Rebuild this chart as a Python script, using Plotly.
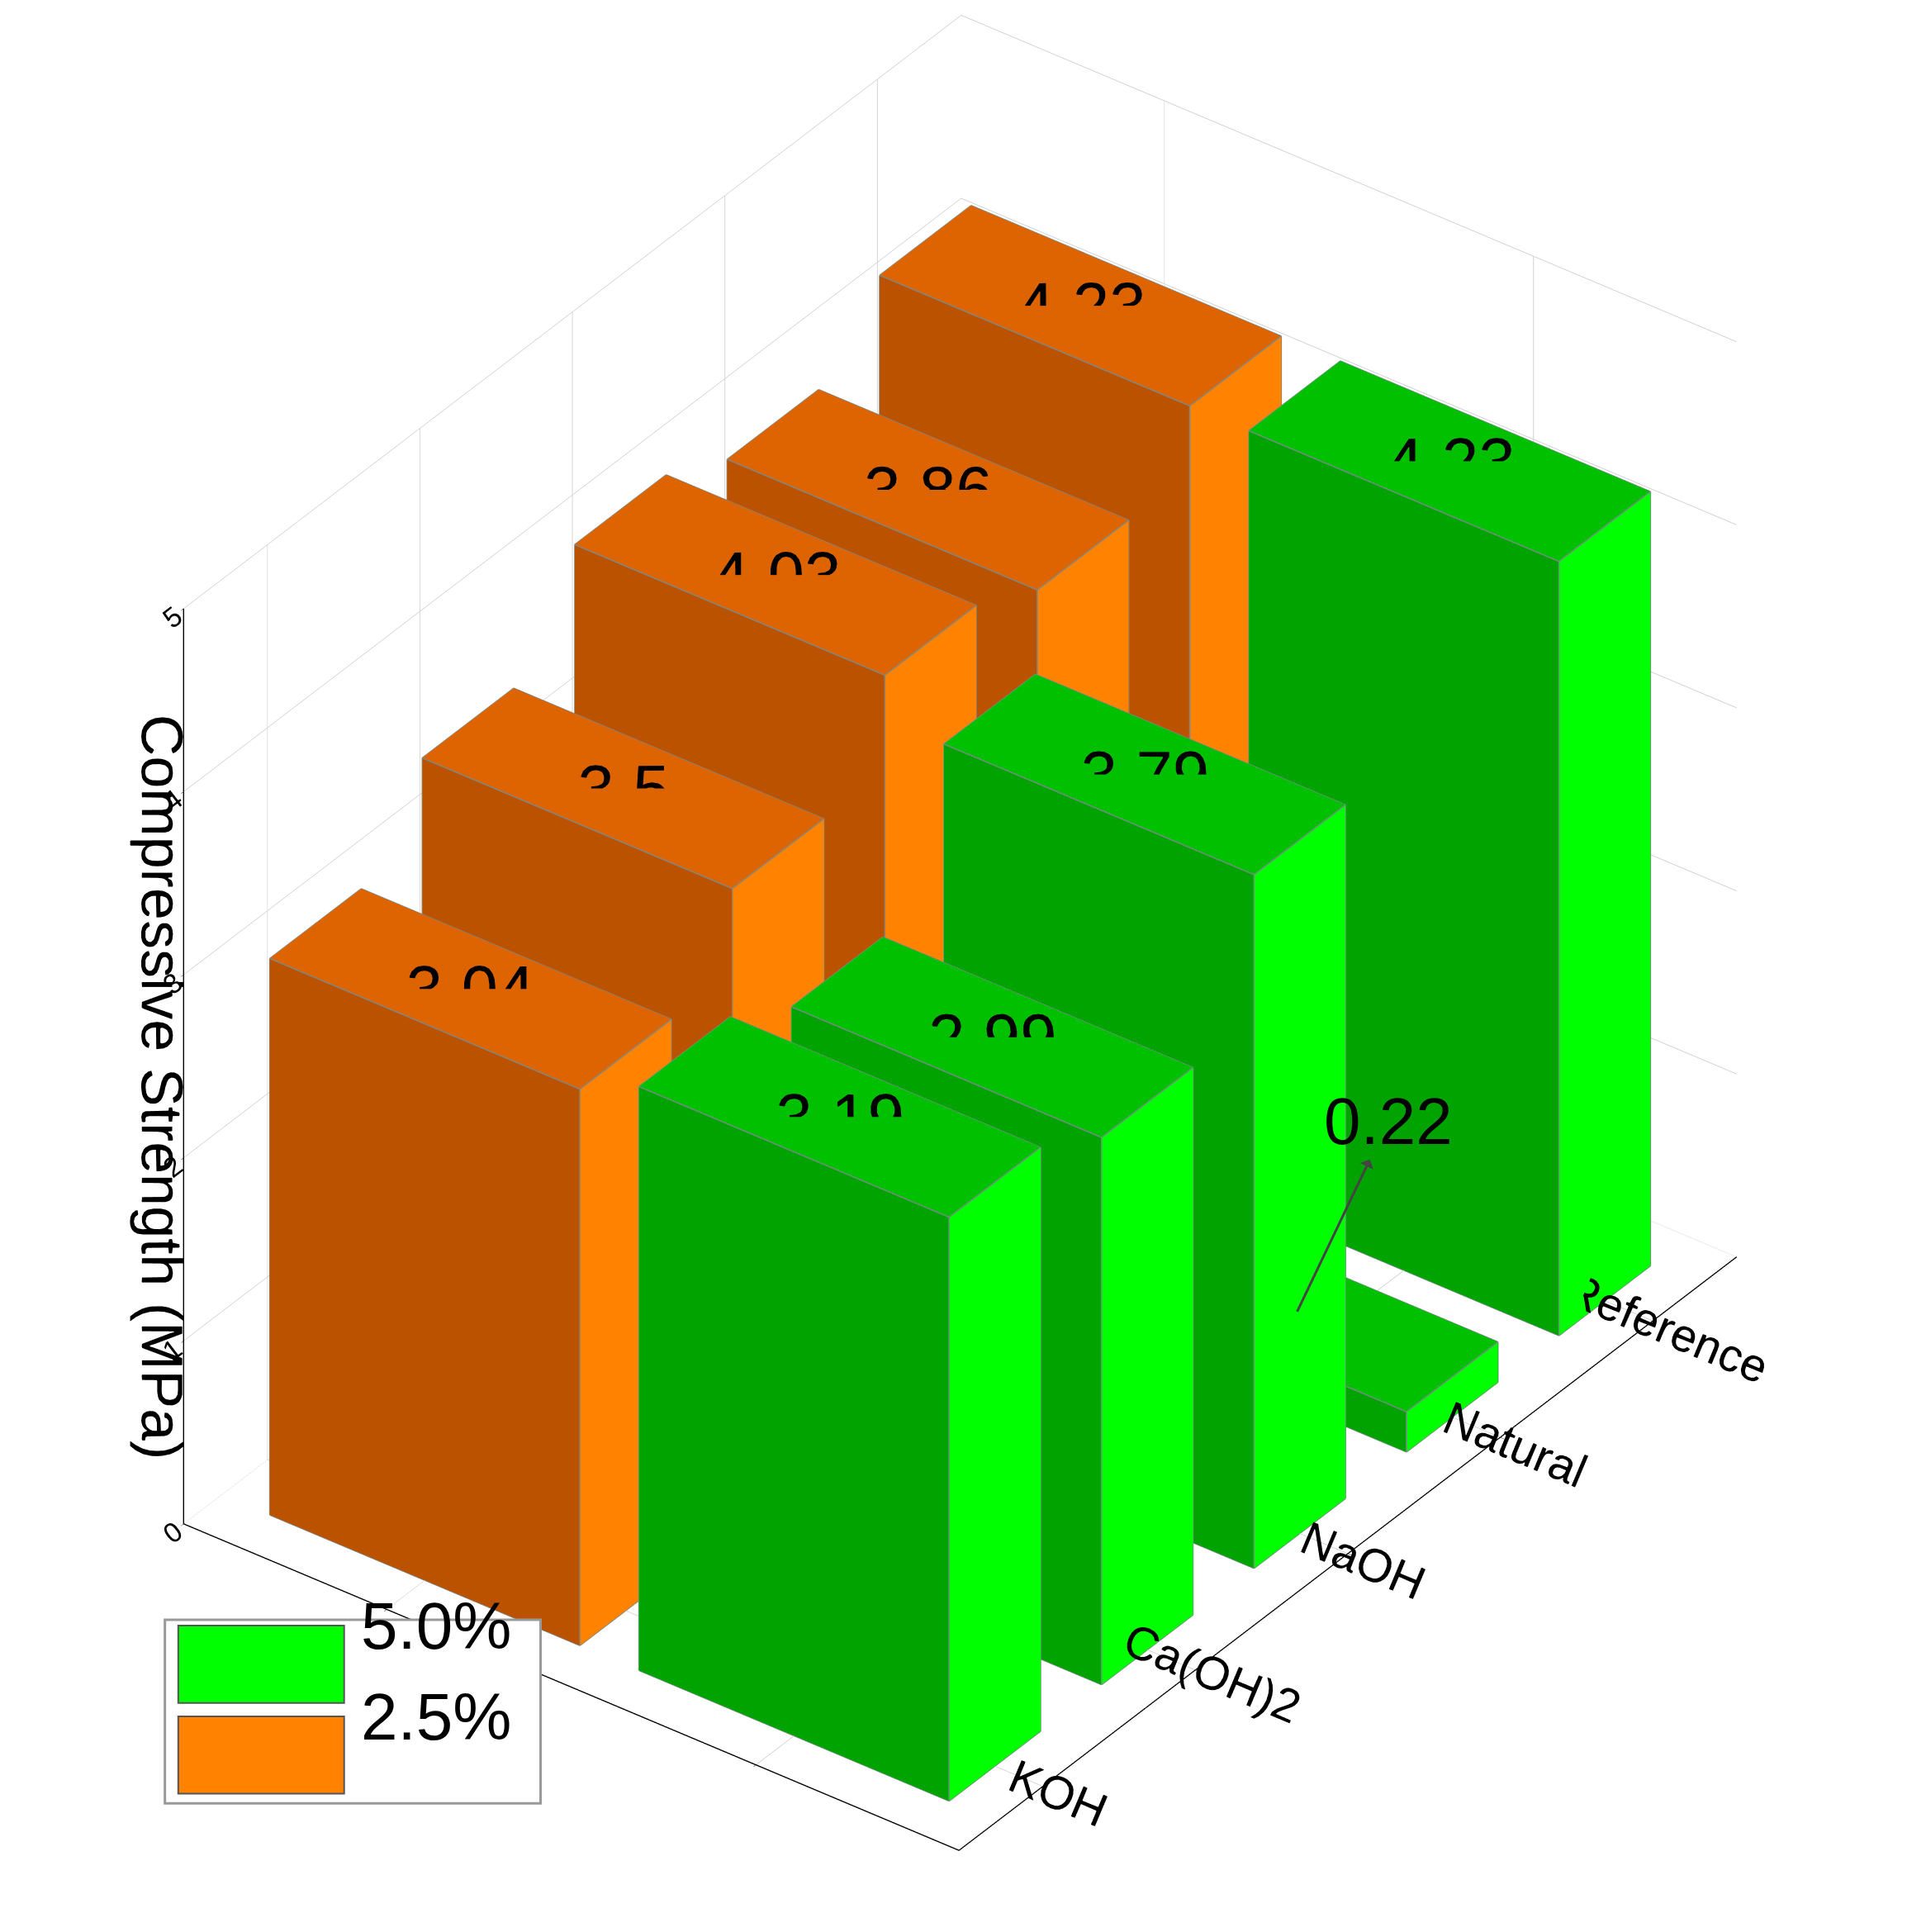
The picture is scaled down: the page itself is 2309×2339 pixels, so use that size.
import plotly.graph_objects as go

categories = ["KOH", "Ca(OH)2", "NaOH", "Natural", "Reference"]
series = ["2.5%", "5.0%"]
vals_25 = [3.04, 3.5, 4.03, 3.86, 4.23]
vals_50 = [3.19, 2.99, 3.79, 0.22, 4.23]

colors = {
    "2.5%": dict(top="#DD6400", front="#BA5200", side="#FF8200"),
    "5.0%": dict(top="#00C000", front="#00A300", side="#00FF00"),
}

fig = go.Figure()
hx, hy = 0.42, 0.3

def box(xc, yc, h, c):
    x0, x1, y0, y1 = xc - hx, xc + hx, yc - hy, yc + hy
    X = [x0, x1, x1, x0, x0, x1, x1, x0]
    Y = [y0, y0, y1, y1, y0, y0, y1, y1]
    Z = [0, 0, 0, 0, h, h, h, h]
    I, J, K, F = [], [], [], []
    def quad(a, b, cc, d, col):
        I.extend([a, a]); J.extend([b, cc]); K.extend([cc, d]); F.extend([col, col])
    quad(4, 5, 6, 7, c["top"]); quad(0, 1, 2, 3, c["front"])
    quad(0, 1, 5, 4, c["front"])
    quad(3, 2, 6, 7, c["front"])
    quad(1, 2, 6, 5, c["side"])
    quad(0, 3, 7, 4, c["side"])
    fig.add_trace(go.Mesh3d(x=X, y=Y, z=Z, i=I, j=J, k=K, facecolor=F,
                            flatshading=True, showlegend=False, hoverinfo="skip",
                            lighting=dict(ambient=1, diffuse=0, specular=0)))
    ex, ey, ez = [], [], []
    for a, b in [(0,1),(1,2),(2,3),(3,0),(4,5),(5,6),(6,7),(7,4),(0,4),(1,5),(2,6),(3,7)]:
        ex += [X[a], X[b], None]; ey += [Y[a], Y[b], None]; ez += [Z[a], Z[b], None]
    fig.add_trace(go.Scatter3d(x=ex, y=ey, z=ez, mode="lines",
                               line=dict(color="#7A8A8A", width=3),
                               showlegend=False, hoverinfo="skip"))

for si, (s, vals) in enumerate([("2.5%", vals_25), ("5.0%", vals_50)]):
    for ci, v in enumerate(vals):
        box(si, ci, v, colors[s])

lx, ly, lz, lt = [], [], [], []
for si, vals in enumerate([vals_25, vals_50]):
    for ci, v in enumerate(vals):
        if v < 1:
            continue
        lx.append(si); ly.append(ci); lz.append(v); lt.append(str(v))
fig.add_trace(go.Scatter3d(x=lx, y=ly, z=lz, mode="text", text=lt,
                           textposition="middle center",
                           textfont=dict(size=80, color="black", family="Arial"),
                           showlegend=False, hoverinfo="skip"))

axis_common = dict(showbackground=False, gridcolor="#D0D0D0", linecolor="black",
                   linewidth=3, showline=True, ticks="outside", tickcolor="black")
fig.update_layout(
    width=2309, height=2339, paper_bgcolor="white",
    margin=dict(l=0, r=0, t=0, b=0),
    font=dict(family="Arial", color="black"),
    scene=dict(
        xaxis=dict(axis_common, title=dict(text=""), range=[-0.55, 1.55],
                   tickvals=[0, 1], ticktext=["", ""]),
        yaxis=dict(axis_common, title=dict(text=""), range=[-0.55, 4.55],
                   tickvals=list(range(5)), ticktext=categories,
                   tickfont=dict(size=26)),
        zaxis=dict(axis_common, range=[0, 5], tickvals=[0, 1, 2, 3, 4, 5],
                   tickfont=dict(size=20),
                   title=dict(text="Compressive Strength (MPa)", font=dict(size=70))),
        aspectmode="manual", aspectratio=dict(x=1.0, y=1.35, z=1.15),
        camera=dict(eye=dict(x=1.3, y=-1.75, z=1.45), center=dict(x=0, y=0, z=-0.05),
                    projection=dict(type="orthographic")),
        annotations=[dict(x=1, y=3, z=0.22, text="0.22", showarrow=True,
                          arrowhead=2, arrowside="start", arrowsize=1.5, arrowwidth=3,
                          ax=110, ay=-230, font=dict(size=80, color="black"))],
    ),
)

fig.add_shape(type="rect", xref="paper", yref="paper", x0=0.083, x1=0.28, y0=0.07, y1=0.165,
              line=dict(color="#999999", width=3), fillcolor="white")
for s, col, yy in [("5.0%", "#00FF00", 0.142), ("2.5%", "#FF8200", 0.095)]:
    fig.add_shape(type="rect", xref="paper", yref="paper", x0=0.09, x1=0.177,
                  y0=yy - 0.02, y1=yy + 0.02, line=dict(color="#555", width=2), fillcolor=col)
    fig.add_annotation(xref="paper", yref="paper", x=0.185, y=yy, text=s, showarrow=False,
                       xanchor="left", font=dict(size=80, color="black"))

fig.write_html("out.html")
